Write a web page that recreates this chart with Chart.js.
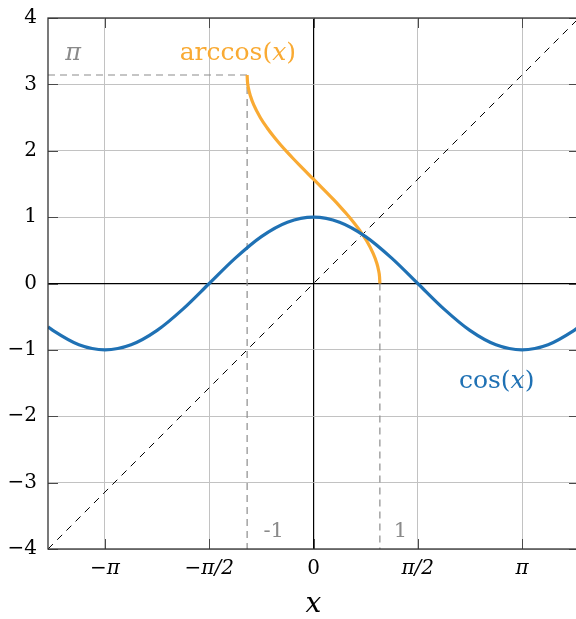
<!DOCTYPE html>
<html><head><meta charset="utf-8">
<script src="https://cdn.jsdelivr.net/npm/chart.js@4.4.1/dist/chart.umd.min.js"></script>
<style>html,body{margin:0;padding:0;overflow:hidden;background:#fff;width:576px;height:619px}canvas{display:block}</style>
</head><body>
<canvas id="c" width="580" height="619"></canvas>
<script>
// ---- data ----
const cosX = [-4, -3.927, -3.5343, -3.1416, -2.7489, -2.3562, -1.9635, -1.5708, -1.1781, -0.7854, -0.3927, 0,
              0.3927, 0.7854, 1.1781, 1.5708, 1.9635, 2.3562, 2.7489, 3.1416, 3.5343, 3.927, 4];
const cosY = [-0.6536, -0.7071, -0.9239, -1, -0.9239, -0.7071, -0.3827, 0, 0.3827, 0.7071, 0.9239, 1,
              0.9239, 0.7071, 0.3827, 0, -0.3827, -0.7071, -0.9239, -1, -0.9239, -0.7071, -0.6536];
const acosX = [-1, -0.995, -0.98, -0.95, -0.9, -0.8, -0.7, -0.6, -0.5, -0.4, -0.3, -0.2, -0.1, 0,
               0.1, 0.2, 0.3, 0.4, 0.5, 0.6, 0.7, 0.8, 0.9, 0.95, 0.98, 0.995, 1];
const acosY = [3.1416, 3.0415, 2.9413, 2.824, 2.6906, 2.4981, 2.3462, 2.2143, 2.0944, 1.9823, 1.8755, 1.7722, 1.671, 1.5708,
               1.4706, 1.3694, 1.2661, 1.1593, 1.0472, 0.9273, 0.7954, 0.6435, 0.451, 0.3176, 0.2003, 0.1001, 0];
const diagX = [-4, 4];
const diagY = [-4, 4];
const piGuideX = [-4, -1];
const piGuideY = [3.1416, 3.1416];
const negGuideX = [-1, -1];
const negGuideY = [3.1416, -4];
const posGuideX = [1, 1];
const posGuideY = [0, -4];
const xTickValues = [-3.1416, -1.5708, 0, 1.5708, 3.1416];
const xTickLabels = ['−π', '−π/2', '0', 'π/2', 'π'];
const yTickValues = [-4, -3, -2, -1, 0, 1, 2, 3, 4];
const yTickLabels = ['−4', '−3', '−2', '−1', '0', '1', '2', '3', '4'];

// ---- styles ----
const BLUE = '#1f71b4';
const ORANGE = '#f9aa33';
const GRAY = '#8a8a8a';
const FONT = '"DejaVu Serif", serif';

const pts = (xs, ys) => xs.map((x, i) => ({x, y: ys[i]}));

const annotations = [
  {parts: [['arccos(', ''], ['x', 'italic '], [')', '']], x: -1.14, y: 3.47, color: ORANGE, size: 25},
  {parts: [['cos(', ''], ['x', 'italic '], [')', '']], x: 2.76, y: -1.47, color: BLUE, size: 25},
  {parts: [['π', 'italic ']], x: -3.62, y: 3.46, color: GRAY, size: 24},
  {parts: [['-1', '']], x: -0.6, y: -3.74, color: GRAY, size: 21},
  {parts: [['1', '']], x: 1.31, y: -3.74, color: GRAY, size: 21}
];

const framePlugin = {
  id: 'frame',
  afterDatasetsDraw(chart) {
    const {ctx, chartArea: a, scales: {x, y}} = chart;
    ctx.save();
    // inward ticks
    ctx.strokeStyle = '#4a4a4a';
    ctx.lineWidth = 1;
    ctx.beginPath();
    xTickValues.forEach(v => {
      const px = Math.round(x.getPixelForValue(v)) + 0.5;
      ctx.moveTo(px, a.bottom); ctx.lineTo(px, a.bottom - 10);
      ctx.moveTo(px, a.top); ctx.lineTo(px, a.top + 10);
    });
    yTickValues.forEach(v => {
      const py = Math.round(y.getPixelForValue(v)) + 0.5;
      ctx.moveTo(a.left, py); ctx.lineTo(a.left + 10, py);
      ctx.moveTo(a.right, py); ctx.lineTo(a.right - 10, py);
    });
    ctx.stroke();
    // frame
    ctx.strokeStyle = '#333';
    ctx.lineWidth = 1.3;
    ctx.strokeRect(a.left, a.top, a.right - a.left, a.bottom - a.top);
    // text labels
    ctx.textBaseline = 'middle';
    ctx.textAlign = 'left';
    annotations.forEach(an => {
      const cx = x.getPixelForValue(an.x), cy = y.getPixelForValue(an.y);
      let total = 0;
      an.parts.forEach(p => { ctx.font = p[1] + an.size + 'px ' + FONT; total += ctx.measureText(p[0]).width; });
      let sx = cx - total / 2;
      ctx.fillStyle = an.color;
      an.parts.forEach(p => { ctx.font = p[1] + an.size + 'px ' + FONT; ctx.fillText(p[0], sx, cy); sx += ctx.measureText(p[0]).width; });
    });
    ctx.restore();
  }
};

const gridColor = ctx => (ctx.tick && Math.abs(ctx.tick.value) < 1e-9) ? '#000' : '#c2c2c2';
const gridWidth = ctx => (ctx.tick && Math.abs(ctx.tick.value) < 1e-9) ? 1.2 : 1;

new Chart(document.getElementById('c'), {
  type: 'scatter',
  data: {
    datasets: [
      {data: pts(cosX, cosY), showLine: true, borderColor: BLUE, borderWidth: 3.2, pointRadius: 0, cubicInterpolationMode: 'monotone'},
      {data: pts(acosX, acosY), showLine: true, borderColor: ORANGE, borderWidth: 3.2, pointRadius: 0, cubicInterpolationMode: 'monotone'},
      {data: pts(diagX, diagY), showLine: true, borderColor: '#000', borderWidth: 1, borderDash: [7, 6], pointRadius: 0},
      {data: pts(piGuideX, piGuideY), showLine: true, borderColor: '#8c8c8c', borderWidth: 1.2, borderDash: [7, 5], pointRadius: 0},
      {data: pts(negGuideX, negGuideY), showLine: true, borderColor: '#8c8c8c', borderWidth: 1.2, borderDash: [7, 5], pointRadius: 0},
      {data: pts(posGuideX, posGuideY), showLine: true, borderColor: '#8c8c8c', borderWidth: 1.2, borderDash: [7, 5], pointRadius: 0}
    ]
  },
  options: {
    responsive: false,
    animation: false,
    events: [],
    layout: {padding: {top: 18, right: 1, left: 0, bottom: 0}},
    plugins: {legend: {display: false}, tooltip: {enabled: false}},
    scales: {
      x: {
        type: 'linear', min: -4, max: 4,
        afterBuildTicks: s => { s.ticks = xTickValues.map(v => ({value: v})); },
        afterFit: s => { s.height = 70; s.paddingLeft = 0; s.paddingRight = 0; },
        grid: {color: gridColor, lineWidth: gridWidth, drawTicks: false},
        border: {display: false},
        ticks: {
          autoSkip: false, maxRotation: 0, padding: 8, color: '#000',
          font: ctx => ({family: FONT, size: 20, style: (ctx.tick && Math.abs(ctx.tick.value) > 1e-9) ? 'italic' : 'normal'}),
          callback: (v, i) => xTickLabels[i]
        },
        title: {display: true, text: 'x', color: '#000', font: {family: FONT, size: 28, style: 'italic', lineHeight: 1}, padding: {top: 0, bottom: 0}}
      },
      y: {
        type: 'linear', min: -4, max: 4,
        afterBuildTicks: s => { s.ticks = yTickValues.map(v => ({value: v})); },
        afterFit: s => { s.width = 48; s.paddingTop = 0; s.paddingBottom = 0; },
        grid: {color: gridColor, lineWidth: gridWidth, drawTicks: false},
        border: {display: false},
        ticks: {
          autoSkip: false, padding: 11, color: '#000',
          font: {family: FONT, size: 20},
          callback: (v, i) => yTickLabels[i]
        }
      }
    }
  },
  plugins: [framePlugin]
});
</script>
</body></html>
